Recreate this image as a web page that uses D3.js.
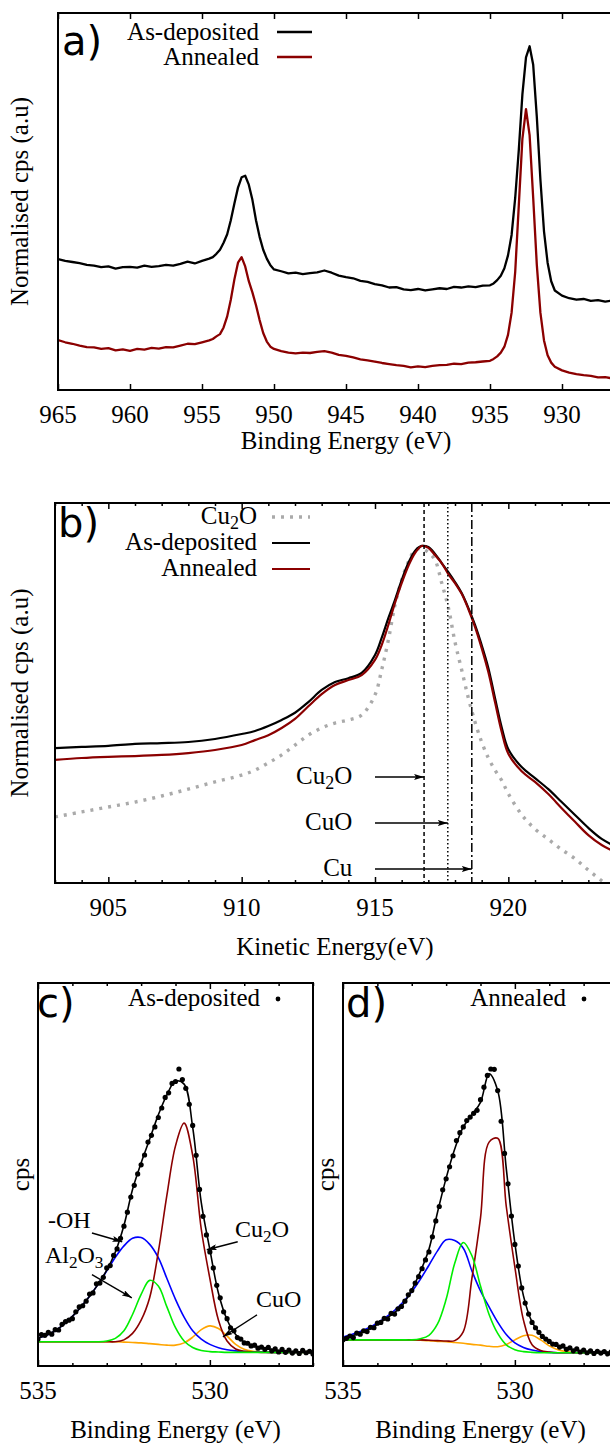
<!DOCTYPE html>
<html>
<head>
<meta charset="utf-8">
<title>Cu 2p, Cu LMM and O 1s spectra</title>
<script src="https://cdn.jsdelivr.net/npm/d3@7"></script>
<style>
  body { margin: 0; background: #ffffff; }
</style>
</head>
<body>
<div id="figure"></div>
<script>
// ---------------- a) Cu 2p, normalised cps vs binding energy ----------------
var aEnergy = [965, 964.5, 964, 963.5, 963, 962.5, 962, 961.5, 961, 960.5, 960, 959.5, 959, 958.5, 958, 957.5, 957, 956.5, 956, 955.5, 955, 954.5,
  954.25, 954, 953.75, 953.5, 953.25, 953, 952.75, 952.5, 952.25, 952, 951.75, 951.5, 951.25, 951, 950.75, 950.5, 950.25, 950,
  949.5, 949, 948.5, 948, 947.5, 947, 946.5, 946, 945.5, 945, 944.5, 944, 943.5, 943, 942.5, 942, 941.5, 941, 940.5, 940,
  939.5, 939, 938.5, 938, 937.5, 937, 936.5, 936, 935.5, 935,
  934.75, 934.5, 934.25, 934, 933.75, 933.5, 933.25, 933, 932.75, 932.5, 932.25, 932, 931.75, 931.5, 931.25, 931, 930.75, 930.5,
  930, 929.5, 929, 928.5, 928, 927.5, 927, 926.5];
var aAsDep = [33.5, 33.0, 32.7, 32.4, 31.9, 31.7, 31.3, 31.5, 30.9, 31.3, 31.4, 31.2, 31.7, 31.4, 31.6, 31.9, 31.7, 32.2, 32.8, 32.3, 33.0, 33.6,
  34.0, 34.9, 36.0, 37.9, 40.2, 44.0, 48.5, 52.8, 55.6, 56.0, 53.6, 49.5, 44.0, 39.5, 36.0, 33.6, 31.8, 30.7,
  30.2, 29.6, 29.8, 29.4, 29.7, 29.9, 30.4, 29.8, 29.0, 28.6, 28.3, 27.6, 27.3, 26.7, 26.4, 25.8, 25.9, 25.3, 25.1, 25.4,
  25.0, 25.3, 25.6, 25.4, 26.0, 25.8, 26.1, 25.9, 26.3, 26.4,
  26.9, 27.8, 29.0, 31.0, 34.5, 40.0, 50.0, 63.0, 78.0, 88.0, 91.0, 86.0, 72.0, 55.0, 41.0, 32.5, 27.5, 25.0,
  23.6, 22.9, 22.5, 22.7, 22.2, 22.4, 22.0, 22.3];
var aAnneal = [11.6, 11.0, 10.6, 10.1, 9.7, 9.6, 9.2, 9.4, 8.8, 9.1, 8.7, 9.2, 9.0, 9.5, 9.3, 9.7, 9.6, 10.1, 10.6, 10.5, 11.0, 11.5,
  11.9, 12.6, 13.2, 15.0, 18.0, 22.5, 28.0, 32.5, 34.0, 31.5, 27.5, 24.5, 21.0, 17.0, 13.5, 11.2, 9.8, 9.2,
  8.6, 8.2, 8.0, 8.2, 8.1, 8.4, 8.6, 8.2, 7.6, 7.3, 6.9, 6.4, 6.1, 5.8, 5.4, 5.1, 4.8, 4.6, 4.2, 4.5,
  4.3, 4.6, 4.8, 4.9, 5.2, 5.1, 5.5, 5.6, 5.8, 6.0,
  6.5, 7.2, 8.2, 9.8, 13.0, 19.0, 30.0, 48.0, 66.0, 74.0, 67.0, 50.0, 32.0, 19.0, 11.5, 7.5, 5.5, 4.4,
  3.4, 2.8, 2.4, 2.1, 1.9, 1.5, 1.6, 1.2];
var aTicks = [965, 960, 955, 950, 945, 940, 935, 930];

// ---------------- b) Cu LMM Auger, normalised cps vs kinetic energy ----------------
var bEnergy = [903, 904, 905, 906, 907, 908, 909, 910,
  910.5, 911, 911.5, 912, 912.5, 913, 913.5, 914, 914.5, 915,
  915.25, 915.5, 915.75, 916, 916.25, 916.5, 916.75, 917, 917.25, 917.5, 917.75, 918, 918.25, 918.5, 918.75, 919, 919.25, 919.5, 919.75, 920,
  920.5, 921, 921.5, 922, 922.5, 923, 923.5, 924];
var bCu2O = [17.4, 18.7, 20.0, 21.3, 22.9, 24.7, 26.6, 28.4,
  29.7, 31.6, 33.7, 36.3, 38.9, 40.8, 42.1, 42.9, 44.2, 49.5,
  56.1, 63.9, 73.2, 79.7, 84.5, 87.6, 88.0, 87.0, 85.0, 79.0, 72.5, 63.4, 56.1, 48.7, 42.4, 37.1, 32.9, 29.7, 27.0, 23.5,
  18.0, 14.2, 11.5, 8.8, 6.4, 3.4, 0.6, -2.2];
var bAsDep = [35.5, 35.8, 36.1, 36.6, 36.8, 37.1, 37.9, 39.2,
  40.0, 41.3, 42.9, 44.8, 47.6, 50.8, 52.9, 53.9, 55.3, 60.0,
  64.5, 69.7, 74.5, 79.7, 84.2, 87.4, 88.7, 88.4, 86.6, 84.2, 81.8, 79.2, 76.3, 72.4, 67.9, 62.6, 56.6, 48.7, 41.0, 35.2,
  30.5, 27.6, 24.7, 21.3, 17.9, 14.5, 11.6, 9.7];
var bAnneal = [32.4, 32.9, 33.2, 33.4, 33.7, 34.2, 35.0, 36.3,
  37.6, 38.9, 40.8, 43.2, 46.5, 49.7, 52.1, 53.4, 54.7, 58.7,
  62.6, 67.9, 73.7, 78.9, 83.4, 86.8, 88.7, 88.2, 86.3, 84.2, 81.3, 78.9, 76.1, 72.1, 67.4, 61.8, 55.5, 47.6, 39.8, 34.0,
  29.4, 26.6, 23.4, 19.7, 16.1, 12.6, 10.0, 8.2];
// reference kinetic energies marked by the vertical lines
var bRefEnergy = [916.84, 917.73, 918.63];
var bRefName = ["Cu_2O", "CuO", "Cu"];
var bTicks = [905, 910, 915, 920];
var bMinor = [903, 904, 906, 907, 908, 909, 911, 912, 913, 914, 916, 917, 918, 919, 921, 922, 923, 924];

// ---------------- c), d) O 1s fits, cps vs binding energy ----------------
var fitEnergy = [535, 534.75, 534.5, 534.25, 534, 533.75, 533.5, 533.25, 533, 532.75, 532.5, 532.25, 532, 531.75, 531.5, 531.25,
  531, 530.75, 530.5, 530.25, 530, 529.75, 529.5, 529.25, 529, 528.75, 528.5, 528.25, 528, 527.75, 527.5, 527.25, 527];
var cOH = [6.3, 7.0, 8.2, 9.9, 12.0, 14.5, 17.3, 20.5, 24.0, 27.6, 30.6, 32.6, 32.8, 31.0, 27.5, 22.0,
  16.5, 11.8, 8.2, 6.0, 4.6, 3.7, 3.2, 2.9, 2.7, 2.6, 2.6, 2.5, 2.5, 2.5, 2.5, 2.5, 2.5];
var cAl2O3 = [5.3, 5.3, 5.3, 5.3, 5.3, 5.3, 5.3, 5.3, 5.5, 6.2, 8.2, 12.5, 17.8, 21.5, 20.0, 14.5,
  9.0, 5.5, 3.8, 3.0, 2.7, 2.6, 2.5, 2.5, 2.5, 2.5, 2.5, 2.5, 2.5, 2.5, 2.5, 2.5, 2.5];
var cCu2O = [5.3, 5.3, 5.3, 5.3, 5.3, 5.3, 5.3, 5.3, 5.3, 5.3, 5.8, 7.5, 11.0, 17.0, 29.0, 44.0,
  57.0, 63.0, 54.5, 35.0, 22.0, 11.0, 5.5, 3.4, 2.8, 2.6, 2.5, 2.5, 2.5, 2.5, 2.5, 2.5, 2.5];
var cCuO = [5.3, 5.3, 5.3, 5.3, 5.3, 5.3, 5.3, 5.3, 5.3, 5.3, 5.2, 5.1, 5.0, 4.8, 4.6, 4.4,
  4.4, 5.0, 6.5, 8.5, 9.5, 8.8, 6.8, 4.6, 3.3, 2.8, 2.6, 2.5, 2.5, 2.5, 2.5, 2.5, 2.5];
var cFit = [6.3, 7.0, 8.2, 9.9, 12.0, 14.5, 17.3, 20.5, 24.2, 29.0, 36.0, 45.5, 52.5, 58.8, 65.2, 70.5,
  74.1, 73.3, 61.9, 42.0, 29.6, 18.1, 11.1, 7.2, 5.2, 4.2, 3.7, 3.3, 3.0, 2.8, 2.7, 2.6, 2.6];

var dOH = [6.5, 7.2, 8.0, 9.0, 10.3, 11.8, 13.6, 15.8, 18.5, 21.8, 25.5, 29.3, 32.2, 32.0, 30.0, 24.0,
  18.7, 14.5, 10.5, 7.2, 5.0, 3.8, 3.1, 2.7, 2.5, 2.4, 2.4, 2.4, 2.4, 2.4, 2.4, 2.4, 2.4];
var dAl2O3 = [5.8, 5.8, 5.8, 5.8, 5.8, 5.8, 5.8, 5.8, 5.8, 6.1, 7.0, 10.0, 16.5, 26.0, 31.5, 28.0,
  20.0, 12.5, 7.5, 4.5, 3.2, 2.7, 2.5, 2.4, 2.4, 2.4, 2.4, 2.4, 2.4, 2.4, 2.4, 2.4, 2.4];
var dCu2O = [5.8, 5.8, 5.8, 5.8, 5.8, 5.8, 5.8, 5.8, 5.8, 5.8, 5.7, 5.6, 5.5, 5.6, 8.0, 22.0,
  38.0, 58.0, 59.0, 41.0, 25.0, 11.0, 4.5, 3.0, 2.6, 2.4, 2.4, 2.4, 2.4, 2.4, 2.4, 2.4, 2.4];
var dCuO = [5.8, 5.8, 5.8, 5.8, 5.8, 5.8, 5.8, 5.8, 5.8, 5.7, 5.6, 5.4, 5.3, 5.1, 4.9, 4.6,
  4.4, 4.1, 4.0, 4.6, 5.8, 6.9, 7.0, 5.8, 4.2, 3.2, 2.7, 2.4, 2.4, 2.4, 2.4, 2.4, 2.4];
var dFit = [6.0, 6.8, 7.6, 8.6, 9.9, 11.4, 13.0, 15.2, 19.0, 23.8, 29.7, 39.5, 48.5, 56.2, 62.0, 65.2,
  68.5, 76.0, 71.6, 51.0, 31.3, 17.4, 10.5, 7.2, 5.2, 4.3, 3.6, 3.1, 2.8, 2.6, 2.5, 2.5, 2.4];

// measured points
var dotEnergy = [535, 534.9, 534.8, 534.7, 534.6, 534.5, 534.4, 534.3, 534.2, 534.1,
  534, 533.9, 533.8, 533.7, 533.6, 533.5, 533.4, 533.3, 533.2, 533.1,
  533, 532.9, 532.8, 532.7, 532.6, 532.5, 532.4, 532.3, 532.2, 532.1,
  532, 531.9, 531.8, 531.7, 531.6, 531.5, 531.4, 531.3, 531.2, 531.1,
  531, 530.9, 530.8, 530.7, 530.6, 530.5, 530.4, 530.3, 530.2, 530.1,
  530, 529.9, 529.8, 529.7, 529.6, 529.5, 529.4, 529.3, 529.2, 529.1,
  529, 528.9, 528.8, 528.7, 528.6, 528.5, 528.4, 528.3, 528.2, 528.1,
  528, 527.9, 527.8, 527.7, 527.6, 527.5, 527.4, 527.3, 527.2, 527.1, 527];
var cDots = [6.0, 7.2, 7.0, 7.8, 7.3, 8.5, 8.4, 9.9, 10.6, 11.0,
  11.4, 13.2, 14.5, 14.8, 16.0, 17.9, 18.2, 20.6, 20.8, 22.3,
  24.8, 25.4, 28.1, 29.8, 32.6, 35.8, 39.5, 43.5, 46.6, 49.6,
  52.0, 54.6, 58.0, 59.8, 62.0, 64.5, 67.0, 69.8, 71.0, 73.5,
  74.0, 77.3, 74.5, 72.2, 68.0, 62.4, 54.5, 45.5, 38.4, 33.5,
  29.0, 24.8, 20.2, 16.9, 13.2, 11.4, 9.0, 8.2, 6.4, 6.0,
  5.0, 4.9, 4.2, 4.4, 3.6, 3.9, 3.3, 3.8, 2.9, 3.4,
  2.6, 3.3, 2.5, 3.1, 2.3, 2.9, 2.2, 3.0, 2.4, 2.8, 2.1];
var dDots = [5.8, 6.2, 6.8, 6.4, 7.6, 7.3, 8.2, 8.0, 9.1, 9.0,
  10.2, 10.4, 11.5, 11.3, 12.8, 12.6, 14.0, 14.6, 16.0, 17.7,
  18.8, 20.8, 22.5, 24.6, 26.9, 29.0, 33.0, 37.2, 41.0, 45.4,
  48.3, 51.5, 54.4, 58.4, 60.5, 62.0, 63.7, 64.6, 65.6, 66.4,
  69.2, 72.5, 75.6, 77.3, 77.2, 71.6, 63.5, 55.0, 47.0, 38.5,
  31.0, 25.3, 19.5, 15.5, 12.6, 10.4, 9.0, 7.8, 6.7, 6.0,
  5.4, 4.7, 4.6, 3.9, 4.2, 3.3, 3.7, 2.9, 3.4, 2.6,
  3.1, 2.4, 2.9, 2.2, 2.8, 2.3, 2.7, 2.1, 2.6, 2.5, 2.2];
var cdTicks = [535, 530];
var cdMinor = [534, 533, 532, 531, 529, 528, 527];

// ---------------- layout ----------------
var W = 610, H = 1445;
var SERIF = "'Liberation Serif', 'Times New Roman', serif";
var SANS = "'DejaVu Sans', sans-serif";
var boxA = {left: 58, right: 634, top: 13, bottom: 390};
var boxB = {left: 55, right: 615, top: 503, bottom: 883};
var boxC = {left: 38, right: 313, top: 983, bottom: 1366};
var boxD = {left: 343, right: 618, top: 983, bottom: 1366};

var xA = d3.scaleLinear().domain([965, 925]).range([boxA.left, boxA.right]);
var yA = d3.scaleLinear().domain([-1.9, 100]).range([boxA.bottom, boxA.top]);
var xB = d3.scaleLinear().domain([903, 924]).range([boxB.left, boxB.right]);
var yB = d3.scaleLinear().domain([0, 100]).range([boxB.bottom, boxB.top]);
var xC = d3.scaleLinear().domain([535, 527]).range([boxC.left, boxC.right]);
var xD = d3.scaleLinear().domain([535, 527]).range([boxD.left, boxD.right]);
var yCD = d3.scaleLinear().domain([-1.1, 100]).range([boxC.bottom, boxC.top]);

var darkRed = "#8b0000";

var svg = d3.select("#figure").append("svg")
  .attr("width", W)
  .attr("height", H)
  .attr("font-family", SERIF);

var defs = svg.append("defs");
defs.append("marker")
  .attr("id", "head")
  .attr("viewBox", "0 0 10 6")
  .attr("refX", 10)
  .attr("refY", 3)
  .attr("markerWidth", 10)
  .attr("markerHeight", 6)
  .attr("markerUnits", "userSpaceOnUse")
  .attr("orient", "auto")
  .append("path")
  .attr("d", "M0,0 L10,3 L0,6 L2,3 Z")
  .attr("fill", "#000");

// empty serif text element; content goes in through chem()
function label(x, y, size, anchor) {
  return svg.append("text")
    .attr("x", x)
    .attr("y", y)
    .attr("text-anchor", anchor || "start")
    .attr("font-size", size)
    .attr("fill", "#000")
    .style("font-family", SERIF);
}

// text as tspans, "Cu_2O" -> Cu, subscript 2, O
function chem(textSel, str) {
  var low = false;
  String(str).split(/(_\d)/).forEach(function(part) {
    if (!part) return;
    if (part[0] === "_") {
      textSel.append("tspan").attr("dy", 5).attr("font-size", "0.72em").text(part.slice(1));
      low = true;
    } else {
      textSel.append("tspan").attr("dy", low ? -5 : 0).text(part);
      low = false;
    }
  });
  return textSel;
}

function clipGroup(box, id) {
  defs.append("clipPath").attr("id", id)
    .append("rect")
    .attr("x", box.left)
    .attr("y", box.top)
    .attr("width", box.right - box.left)
    .attr("height", box.bottom - box.top);
  return svg.append("g").attr("clip-path", `url(#${id})`);
}

function drawLine(g, xs, ys, x, y, color, width, curve) {
  var pts = xs.map((e, i) => [e, ys[i]]);
  var line = d3.line()
    .x(d => x(d[0]))
    .y(d => y(d[1]))
    .curve(curve || d3.curveLinear);
  return g.append("path")
    .datum(pts)
    .attr("d", line)
    .attr("fill", "none")
    .attr("stroke", color)
    .attr("stroke-width", width)
    .attr("stroke-linejoin", "round");
}

// frame with inward ticks on the bottom and top edges
function drawFrame(box, x, major, minor) {
  var g = svg.append("g");
  if (minor) {
    g.append("g")
      .attr("transform", `translate(0, ${box.bottom})`)
      .call(d3.axisBottom(x).tickValues(minor).tickSize(-3).tickFormat(""));
    g.append("g")
      .attr("transform", `translate(0, ${box.top})`)
      .call(d3.axisTop(x).tickValues(minor).tickSize(-3).tickFormat(""));
  }
  g.append("g")
    .attr("transform", `translate(0, ${box.bottom})`)
    .call(d3.axisBottom(x).tickValues(major).tickSize(-6).tickFormat(""));
  g.append("g")
    .attr("transform", `translate(0, ${box.top})`)
    .call(d3.axisTop(x).tickValues(major).tickSize(-6).tickFormat(""));
  g.selectAll(".domain").remove();
  g.selectAll(".tick line").attr("stroke-width", 1.5);
  g.selectAll(".tick text").remove();
  // tick labels
  major.forEach(function(v) {
    chem(label(x(v), box.bottom + 33, 25, "middle"), v);
  });
  g.append("rect")
    .attr("x", box.left)
    .attr("y", box.top)
    .attr("width", box.right - box.left)
    .attr("height", box.bottom - box.top)
    .attr("fill", "none")
    .attr("stroke", "#000")
    .attr("stroke-width", 2);
  return g;
}

function xTitle(box, text, baseline) {
  chem(label((box.left + box.right) / 2, baseline, 25, "middle"), text);
}

function yTitle(box, text, baselineX) {
  chem(label(0, 0, 25, "middle")
    .attr("transform", `translate(${baselineX}, ${(box.top + box.bottom) / 2}) rotate(-90)`), text);
}

function tag(text, x, y) {
  svg.append("text")
    .attr("x", x)
    .attr("y", y)
    .attr("font-size", 40)
    .attr("fill", "#000")
    .style("font-family", SANS)
    .append("tspan")
    .text(text);
}

// ================= panel a =================
var plotA = clipGroup(boxA, "clipA");
drawLine(plotA, aEnergy, aAsDep, xA, yA, "#000", 2.3);
drawLine(plotA, aEnergy, aAnneal, xA, yA, darkRed, 2.3);
drawFrame(boxA, xA, aTicks, null);
xTitle(boxA, "Binding Energy (eV)", 449);
yTitle(boxA, "Normalised cps (a.u)", 28);
tag("a)", 62, 55);

var legendA = [["As-deposited", "#000"], ["Annealed", darkRed]];
legendA.forEach(function(d, i) {
  var ly = 32 + i * 25;
  chem(label(259, ly + 8, 25, "end"), d[0]);
  svg.append("line").attr("x1", 277).attr("x2", 312).attr("y1", ly).attr("y2", ly)
    .attr("stroke", d[1]).attr("stroke-width", 2.3);
});

// ================= panel b =================
var plotB = clipGroup(boxB, "clipB");
drawLine(plotB, bEnergy, bCu2O, xB, yB, "#aaaaaa", 3.4, d3.curveCatmullRom)
  .attr("stroke-dasharray", "3,6");
drawLine(plotB, bEnergy, bAsDep, xB, yB, "#000", 2.2, d3.curveCatmullRom);
drawLine(plotB, bEnergy, bAnneal, xB, yB, darkRed, 2.2, d3.curveCatmullRom);

var refDash = ["4,3", "1.5,2.5", "9,3,2,3"];
var refLevel = [27.9, 15.8, 3.7];
bRefEnergy.forEach(function(e, i) {
  plotB.append("line")
    .attr("x1", xB(e)).attr("x2", xB(e))
    .attr("y1", boxB.top).attr("y2", boxB.bottom)
    .attr("stroke", "#000").attr("stroke-width", 1.5)
    .attr("stroke-dasharray", refDash[i]);
  svg.append("line")
    .attr("x1", xB(915)).attr("x2", xB(e))
    .attr("y1", yB(refLevel[i])).attr("y2", yB(refLevel[i]))
    .attr("stroke", "#000").attr("stroke-width", 1.5)
    .attr("marker-end", "url(#head)");
  chem(label(xB(914.15), yB(refLevel[i]) + 7, 25, "end"), bRefName[i]);
});

drawFrame(boxB, xB, bTicks, bMinor);
xTitle(boxB, "Kinetic Energy(eV)", 955);
yTitle(boxB, "Normalised cps (a.u)", 28);
tag("b)", 58, 537);

var legendB = [["Cu_2O", "#aaaaaa", "3,6", 3.4], ["As-deposited", "#000", null, 2.2], ["Annealed", darkRed, null, 2.2]];
legendB.forEach(function(d, i) {
  var ly = 517 + i * 26;
  chem(label(257, ly + 7, 25, "end"), d[0]);
  svg.append("line").attr("x1", 272).attr("x2", 310).attr("y1", ly).attr("y2", ly)
    .attr("stroke", d[1]).attr("stroke-width", d[3])
    .attr("stroke-dasharray", d[2]);
});

// ================= panels c and d =================
function fitPanel(box, x, id, oh, al, cu2o, cuo, fit, dots) {
  var plot = clipGroup(box, id);
  drawLine(plot, fitEnergy, cuo, x, yCD, "#ffa500", 1.6, d3.curveCatmullRom);
  drawLine(plot, fitEnergy, oh, x, yCD, "#0000ff", 1.6, d3.curveCatmullRom);
  drawLine(plot, fitEnergy, cu2o, x, yCD, darkRed, 1.6, d3.curveCatmullRom);
  drawLine(plot, fitEnergy, al, x, yCD, "#00ee00", 1.6, d3.curveCatmullRom);
  drawLine(plot, fitEnergy, fit, x, yCD, "#000", 1.6, d3.curveCatmullRom);
  plot.selectAll("circle.pt")
    .data(dotEnergy.map((e, i) => [e, dots[i]]))
    .enter().append("circle")
    .attr("class", "pt")
    .attr("cx", d => x(d[0]))
    .attr("cy", d => yCD(d[1]))
    .attr("r", 2.6)
    .attr("fill", "#000");
  drawFrame(box, x, cdTicks, cdMinor);
  xTitle(box, "Binding Energy (eV)", 1438);
  yTitle(box, "cps", box.left - 9);
}

fitPanel(boxC, xC, "clipC", cOH, cAl2O3, cCu2O, cCuO, cFit, cDots);
fitPanel(boxD, xD, "clipD", dOH, dAl2O3, dCu2O, dCuO, dFit, dDots);

tag("c)", 37, 1017);
tag("d)", 346, 1017);

// legends with a single point
[[260, 278, "As-deposited"], [566, 584, "Annealed"]].forEach(function(d) {
  chem(label(d[0], 1006, 25, "end"), d[2]);
  svg.append("circle").attr("cx", d[1]).attr("cy", 999).attr("r", 2.4).attr("fill", "#000");
});

// component labels in c) (binding energy, cps)
var cLabels = [
  {name: "-OH", at: [534.71, 35.4], from: [533.43, 34.0], to: [532.55, 31.7]},
  {name: "Al_2O_3", at: [534.8, 26.1], from: [533.43, 23.0], to: [532.27, 16.9]},
  {name: "Cu_2O", at: [529.27, 33.0], from: [529.19, 31.7], to: [530.09, 29.6]},
  {name: "CuO", at: [528.66, 14.5], from: [528.63, 12.4], to: [529.62, 6.6]}
];
cLabels.forEach(function(d) {
  chem(label(xC(d.at[0]), yCD(d.at[1]), 24), d.name);
  svg.append("line")
    .attr("x1", xC(d.from[0])).attr("y1", yCD(d.from[1]))
    .attr("x2", xC(d.to[0])).attr("y2", yCD(d.to[1]))
    .attr("stroke", "#000").attr("stroke-width", 1.4)
    .attr("marker-end", "url(#head)");
});
</script>
</body>
</html>
